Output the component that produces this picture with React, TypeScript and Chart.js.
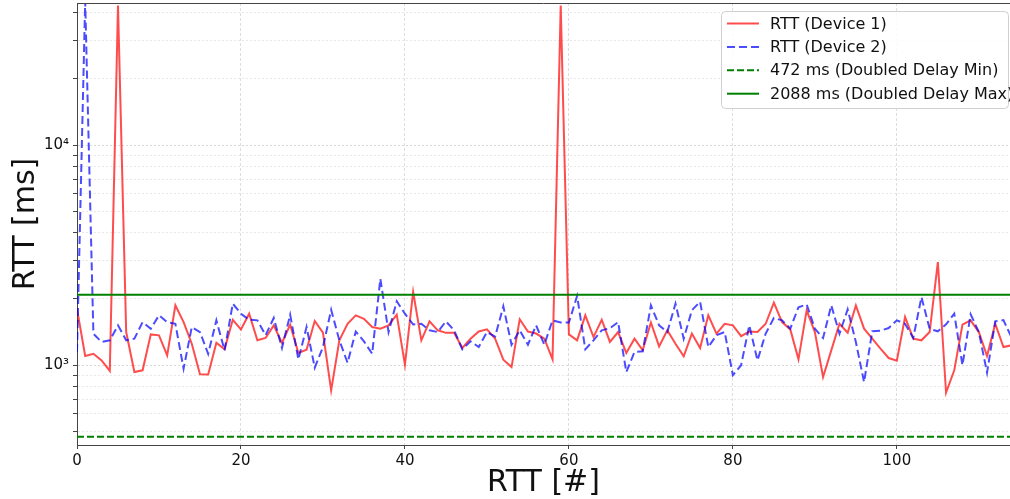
import { useEffect, useRef } from 'react';
import { Chart, registerables } from 'chart.js';

Chart.register(...registerables);

// ---- Data ----
const RTT_DEVICE_1 = [
  1800, 1099, 1125, 1050, 940, 43000, 1412, 929, 946, 1378,
  1364, 1107, 1867, 1567, 1250, 908, 905, 1263, 1178, 1606,
  1452, 1711, 1295, 1327, 1514, 1259, 1525, 1134, 1174, 1585,
  1402, 767, 1295, 1540, 1682, 1623, 1488, 1463, 1514, 1694,
  1003, 2147, 1295, 1580, 1438, 1400, 1400, 1195, 1317, 1420,
  1452, 1317, 1057, 979, 1614, 1420, 1390, 1317, 1061, 43000,
  1378, 1295, 1682, 1340, 1606, 1273, 1412, 1134, 1317, 1166,
  1560, 1215, 1438, 1250, 1095, 1390, 1195, 1682, 1390, 1540,
  1514, 1352, 1420, 1412, 1540, 1920, 1567, 1452, 1061, 1773,
  1412, 882, 1166, 1540, 1402, 1867, 1463, 1317, 1186, 1076,
  1046, 1652, 1317, 1295, 1412, 2939, 748, 946, 1525, 1596,
  1412, 1099, 1540, 1207, 1230,
];

const RTT_DEVICE_2 = [
  1146, 45000, 1388, 1273, 1295, 1514, 1295, 1317, 1567, 1463,
  1682, 1567, 1540, 962, 1488, 1412, 1125, 1596, 1166, 1900,
  1711, 1606, 1596, 1366, 1636, 1195, 1694, 1061, 1488, 972,
  1207, 1782, 1295, 1024, 1420, 1281, 1125, 2466, 1412, 1949,
  1711, 1530, 1540, 1438, 1412, 1580, 1438, 1178, 1281, 1207,
  1412, 1347, 1848, 1237, 1438, 1237, 1514, 1237, 1596, 1560,
  1560, 2061, 1178, 1295, 1438, 1470, 1567, 929, 1146, 1154,
  1867, 1514, 1412, 1900, 1317, 1773, 1940, 1207, 1366, 1412,
  898, 998, 1514, 1050, 1390, 1636, 1596, 1463, 1830, 1885,
  1463, 1327, 1867, 1388, 1790, 1273, 837, 1423, 1430, 1473,
  1596, 1540, 1327, 2037, 1460, 1423, 1530, 1711, 998, 1700,
  1412, 923, 1580, 1600, 1330,
];

const DELAY_MIN = 472;
const DELAY_MAX = 2088;

const X_MIN = 0;
const X_MAX = 113.8;
const X_TICKS = [0, 20, 40, 60, 80, 100];

const Y_MIN = 433;
const Y_MAX = 44200;
const Y_TICKS = [
  500, 600, 700, 800, 900, 1000,
  2000, 3000, 4000, 5000, 6000, 7000, 8000, 9000, 10000,
  20000, 30000, 40000,
];
const Y_MAJOR_LABELS: Record<number, string> = { 1000: '10³', 10000: '10⁴' };

const LABELS = [
  'RTT (Device 1)',
  'RTT (Device 2)',
  `${DELAY_MIN} ms (Doubled Delay Min)`,
  `${DELAY_MAX} ms (Doubled Delay Max)`,
];

const FONT = "'DejaVu Sans', sans-serif";

const framePlugin = {
  id: 'frameAndLegend',
  afterDraw(chart: any) {
    const ctx = chart.ctx as CanvasRenderingContext2D;
    const { left, right, top } = chart.chartArea;
    ctx.save();
    // top spine
    ctx.strokeStyle = '#444444';
    ctx.lineWidth = 1;
    ctx.beginPath();
    ctx.moveTo(left, top + 0.5);
    ctx.lineTo(right, top + 0.5);
    ctx.stroke();

    // legend box
    const boxW = 287;
    const boxH = 97;
    const x0 = right - boxW - 2;
    const y0 = top + 8;
    ctx.beginPath();
    ctx.roundRect(x0 + 0.5, y0 + 0.5, boxW, boxH, 4);
    ctx.fillStyle = 'rgba(255,255,255,0.85)';
    ctx.fill();
    ctx.strokeStyle = '#d0d0d0';
    ctx.lineWidth = 1;
    ctx.stroke();

    chart.data.datasets.forEach((ds: any, i: number) => {
      const yc = y0 + 12.5 + i * 23.4;
      ctx.beginPath();
      ctx.setLineDash(ds.borderDash || []);
      ctx.strokeStyle = ds.borderColor;
      ctx.lineWidth = ds.borderWidth;
      ctx.moveTo(x0 + 6, yc);
      ctx.lineTo(x0 + 38, yc);
      ctx.stroke();
      ctx.setLineDash([]);
      ctx.fillStyle = '#111111';
      ctx.font = `16px ${FONT}`;
      ctx.textBaseline = 'middle';
      ctx.textAlign = 'left';
      ctx.fillText(ds.label, x0 + 49, yc + 1);
    });
    ctx.restore();
  },
};

export default function App() {
  const canvasRef = useRef<HTMLCanvasElement | null>(null);

  useEffect(() => {
    if (!canvasRef.current) return;
    const toPoints = (arr: number[]) => arr.map((v, i) => ({ x: i, y: v }));
    const lastIndex = RTT_DEVICE_1.length - 1;
    const flat = (v: number) => [
      { x: 0, y: v },
      { x: lastIndex, y: v },
    ];

    const chart = new Chart(canvasRef.current, {
      type: 'line',
      data: {
        datasets: [
          {
            label: LABELS[0],
            data: toPoints(RTT_DEVICE_1),
            borderColor: 'rgba(255,0,0,0.7)',
            backgroundColor: 'rgba(255,0,0,0.7)',
            borderWidth: 2,
            pointRadius: 0,
            tension: 0,
            order: 4,
          },
          {
            label: LABELS[1],
            data: toPoints(RTT_DEVICE_2),
            borderColor: 'rgba(0,0,255,0.7)',
            backgroundColor: 'rgba(0,0,255,0.7)',
            borderWidth: 2,
            borderDash: [8, 4],
            pointRadius: 0,
            tension: 0,
            order: 3,
          },
          {
            label: LABELS[2],
            data: flat(DELAY_MIN),
            borderColor: '#008000',
            backgroundColor: '#008000',
            borderWidth: 2,
            borderDash: [7, 3],
            pointRadius: 0,
            order: 2,
          },
          {
            label: LABELS[3],
            data: flat(DELAY_MAX),
            borderColor: '#008000',
            backgroundColor: '#008000',
            borderWidth: 2,
            pointRadius: 0,
            order: 1,
          },
        ] as any,
      },
      options: {
        animation: false,
        responsive: true,
        maintainAspectRatio: false,
        layout: { padding: { top: 3, right: 0, left: 0, bottom: 0 } },
        plugins: {
          legend: { display: false },
          tooltip: { enabled: false },
        },
        scales: {
          x: {
            type: 'linear',
            min: X_MIN,
            max: X_MAX,
            afterBuildTicks: (scale: any) => {
              scale.ticks = X_TICKS.map((v) => ({ value: v }));
            },
            afterFit: (scale: any) => {
              scale.height = 54;
              scale.paddingLeft = 0;
              scale.paddingRight = 0;
            },
            ticks: {
              font: { family: FONT, size: 15 },
              color: '#111111',
              padding: 3,
              maxRotation: 0,
              autoSkip: false,
            },
            grid: {
              color: 'rgba(0,0,0,0.13)',
              tickColor: '#444444',
              tickLength: 4,
              drawTicks: true,
            },
            border: { display: true, color: '#444444', width: 1, dash: [3, 2] },
            title: {
              display: true,
              text: 'RTT [#]',
              font: { family: FONT, size: 30, lineHeight: 1.0 },
              color: '#111111',
              padding: { top: 0, bottom: 1 },
            },
          },
          y: {
            type: 'logarithmic',
            min: Y_MIN,
            max: Y_MAX,
            afterBuildTicks: (scale: any) => {
              scale.ticks = Y_TICKS.map((v) => ({ value: v, major: v in Y_MAJOR_LABELS }));
            },
            afterFit: (scale: any) => {
              scale.width = 77;
              scale.paddingTop = 0;
              scale.paddingBottom = 0;
            },
            ticks: {
              font: { family: FONT, size: 15 },
              color: '#111111',
              padding: 4,
              autoSkip: false,
              callback: (value: any) => Y_MAJOR_LABELS[Number(value)] ?? '',
            },
            grid: {
              color: (c: any) =>
                c.tick && Y_MAJOR_LABELS[c.tick.value] ? 'rgba(0,0,0,0.15)' : 'rgba(0,0,0,0.09)',
              tickColor: '#444444',
              tickLength: 4,
              drawTicks: true,
            },
            border: { display: true, color: '#444444', width: 1, dash: [2, 2] },
            title: {
              display: true,
              text: 'RTT [ms]',
              font: { family: FONT, size: 30 },
              color: '#111111',
              padding: { top: 8, bottom: 0 },
            },
          },
        },
      } as any,
      plugins: [framePlugin],
    });
    return () => chart.destroy();
  }, []);

  return (
    <div style={{ position: 'fixed', left: 0, top: 0, width: 1010, height: 499, background: '#fff' }}>
      <canvas ref={canvasRef} />
    </div>
  );
}
